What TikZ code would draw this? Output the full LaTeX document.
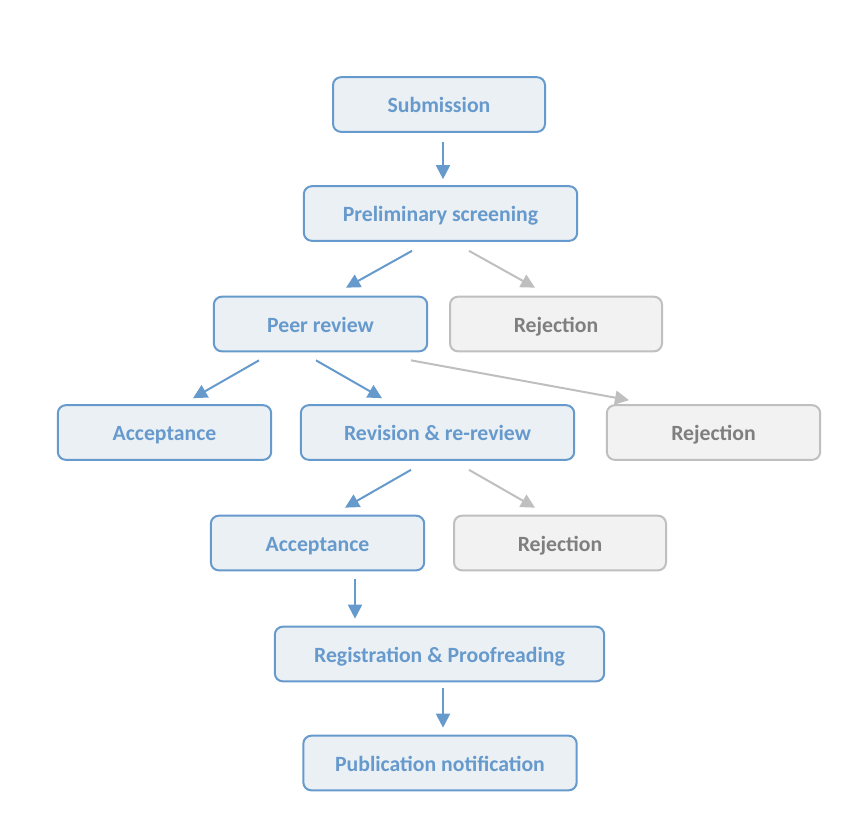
\documentclass[tikz,border=0pt]{standalone}
\usepackage{fontspec}
\setmainfont{Carlito}
\usetikzlibrary{arrows.meta}

\definecolor{flowblue}{HTML}{6699CC}
\definecolor{flowfill}{HTML}{EBF0F5}
\definecolor{rejline}{HTML}{BFBFBF}
\definecolor{rejfill}{HTML}{F2F2F2}
\definecolor{rejtext}{HTML}{7F7F7F}

\tikzset{
  box/.style={rounded corners=6pt, line width=1.5pt, minimum height=41pt,
    text height=1.3em, text depth=0.08em, font=\fontsize{16.3}{19}\selectfont\bfseries},
  bluebox/.style={box, draw=flowblue, fill=flowfill, text=flowblue},
  graybox/.style={box, draw=rejline, fill=rejfill, text=rejtext},
  bluearrow/.style={draw=flowblue, line width=1.5pt, -{Triangle[length=10.5pt,width=10.5pt]}},
  grayarrow/.style={draw=rejline, line width=1.5pt, -{Triangle[length=10.5pt,width=10.5pt]}}
}

\begin{document}
\begin{tikzpicture}[x=0.75pt,y=-0.75pt]
  \useasboundingbox (0,0) rectangle (852,826);

  \node[bluebox, minimum width=159pt] (sub) at (439,104.5) {Submission};
  \node[bluebox, minimum width=205pt] (prelim) at (440.5,213.5) {Preliminary screening};
  \node[bluebox, minimum width=160pt] (peer) at (320.5,324) {Peer review};
  \node[graybox, minimum width=159pt] (rejA) at (556,324) {Rejection};
  \node[bluebox, minimum width=160pt] (accA) at (164.5,432.5) {Acceptance};
  \node[bluebox, minimum width=205pt] (rev) at (437.5,432.5) {Revision \& re-review};
  \node[graybox, minimum width=160pt] (rejB) at (713.5,432.5) {Rejection};
  \node[bluebox, minimum width=160pt] (accB) at (317.5,543) {Acceptance};
  \node[graybox, minimum width=159pt] (rejC) at (560,543) {Rejection};
  \node[bluebox, minimum width=247pt] (reg) at (439.5,654) {Registration \& Proofreading};
  \node[bluebox, minimum width=205pt] (pub) at (440,763) {Publication notification};

  % main path
  \draw[bluearrow] ([shift={(4,9)}]sub.south) -- ([shift={(2.5,-6)}]prelim.north);
  \draw[bluearrow] ([shift={(-28.5,9)}]prelim.south) -- ([shift={(25.5,-8)}]peer.north);
  \draw[bluearrow] ([shift={(-61.5,8)}]peer.south) -- ([shift={(28.5,-6)}]accA.north);
  \draw[bluearrow] ([shift={(-4.5,8)}]peer.south) -- ([shift={(-55.5,-6)}]rev.north);
  \draw[bluearrow] ([shift={(-26.5,9)}]rev.south) -- ([shift={(27.5,-7)}]accB.north);
  \draw[bluearrow] ([shift={(37.5,8)}]accB.south) -- ([shift={(-84.5,-7)}]reg.north);
  \draw[bluearrow] ([shift={(3.5,6)}]reg.south) -- ([shift={(3,-7)}]pub.north);

  % rejections
  \draw[grayarrow] ([shift={(28.5,9)}]prelim.south) -- ([shift={(-21,-8)}]rejA.north);
  \draw[grayarrow] ([shift={(90.5,8)}]peer.south) -- ([shift={(-84.5,-4)}]rejB.north);
  \draw[grayarrow] ([shift={(31.5,9)}]rev.south) -- ([shift={(-25,-7)}]rejC.north);
\end{tikzpicture}
\end{document}
